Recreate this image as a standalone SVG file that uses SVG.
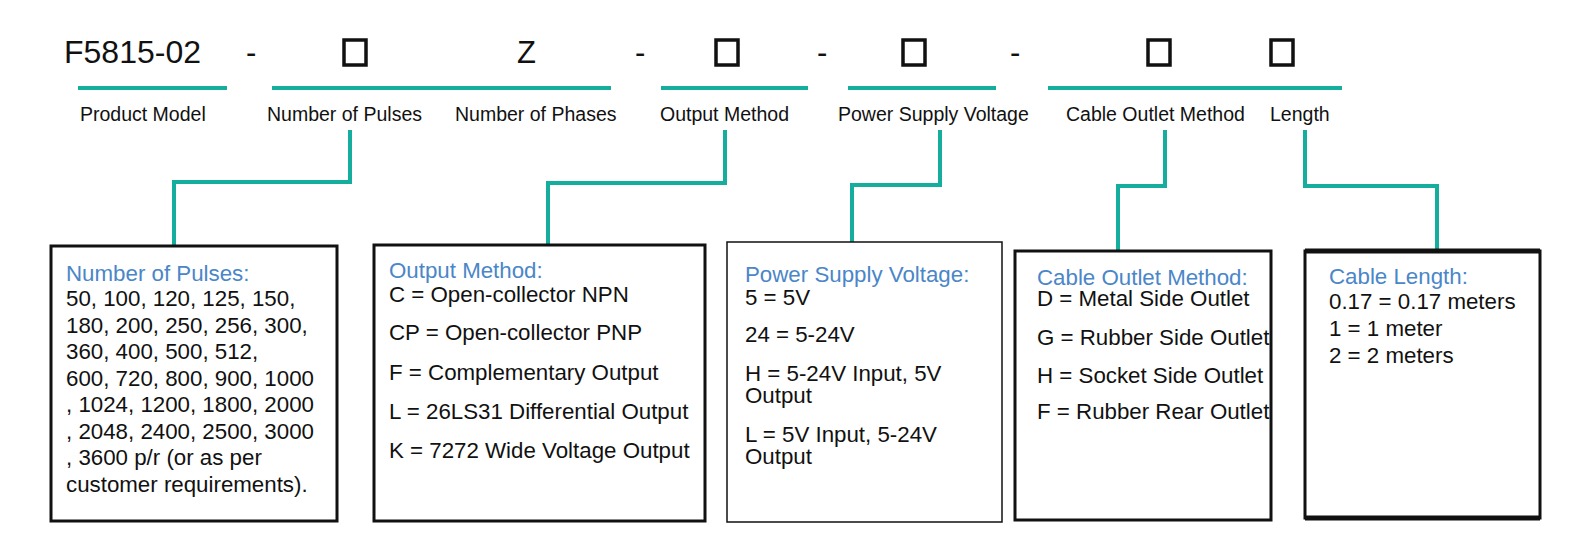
<svg xmlns="http://www.w3.org/2000/svg" width="1572" height="548" viewBox="0 0 1572 548">
<style>
text{font-family:"Liberation Sans",Arial,sans-serif;fill:#111}
.big{font-size:31px}.lab{font-size:19.5px}.t{font-size:22.3px}.h{font-size:22.3px;fill:#4a86c8}
.bar{stroke:#14ad9e;stroke-width:4;fill:none}
.box{fill:#fff;stroke:#111;stroke-width:3}
.sq{fill:none;stroke:#111;stroke-width:3.5}
</style>
<rect width="1572" height="548" fill="#fff"/>
<g id="code">
<text class="big" x="64" y="63" textLength="137" lengthAdjust="spacingAndGlyphs">F5815-02</text>
<text class="big" x="246" y="63">-</text>
<rect class="sq" x="344" y="40" width="22" height="25"/>
<text class="big" x="517" y="63">Z</text>
<text class="big" x="635" y="63">-</text>
<rect class="sq" x="716" y="40" width="22" height="25"/>
<text class="big" x="817" y="63">-</text>
<rect class="sq" x="903" y="40" width="22" height="25"/>
<text class="big" x="1010" y="63">-</text>
<rect class="sq" x="1148" y="40" width="22" height="25"/>
<rect class="sq" x="1271" y="40" width="22" height="25"/>
</g>
<g id="labels">
<text class="lab" x="80" y="121">Product Model</text>
<text class="lab" x="267" y="121">Number of Pulses</text>
<text class="lab" x="455" y="121">Number of Phases</text>
<text class="lab" x="660" y="121">Output Method</text>
<text class="lab" x="838" y="121">Power Supply Voltage</text>
<text class="lab" x="1066" y="121">Cable Outlet Method</text>
<text class="lab" x="1270" y="121">Length</text>
</g>
<g id="connectors">
<path class="bar" d="M78 88H227M272 88H611M661 88H808M848 88H996M1048 88H1342"/>
<path class="bar" d="M350 130V182H174V245M725 130V183H548V244M940 130V185H852V242M1165 130V186H1118V250M1305 130V186H1437V249"/>
</g>
<g id="pulses">
<rect class="box" x="51" y="246" width="286" height="275"/>
<text class="h" x="66" y="281">Number of Pulses:</text>
<text class="t" x="66" y="306">50, 100, 120, 125, 150,</text>
<text class="t" x="66" y="333">180, 200, 250, 256, 300,</text>
<text class="t" x="66" y="359">360, 400, 500, 512,</text>
<text class="t" x="66" y="386">600, 720, 800, 900, 1000</text>
<text class="t" x="66" y="412">, 1024, 1200, 1800, 2000</text>
<text class="t" x="66" y="439">, 2048, 2400, 2500, 3000</text>
<text class="t" x="66" y="465">, 3600 p/r (or as per</text>
<text class="t" x="66" y="492">customer requirements).</text>
</g>
<g id="output">
<rect class="box" x="374" y="245" width="331" height="276"/>
<text class="h" x="389" y="278">Output Method:</text>
<text class="t" x="389" y="302">C = Open-collector NPN</text>
<text class="t" x="389" y="340">CP = Open-collector PNP</text>
<text class="t" x="389" y="380">F = Complementary Output</text>
<text class="t" x="389" y="419">L = 26LS31 Differential Output</text>
<text class="t" x="389" y="458">K = 7272 Wide Voltage Output</text>
</g>
<g id="voltage">
<rect class="box" x="727" y="242" width="275" height="280" style="stroke-width:1.5"/>
<text class="h" x="745" y="282">Power Supply Voltage:</text>
<text class="t" x="745" y="305">5 = 5V</text>
<text class="t" x="745" y="342">24 = 5-24V</text>
<text class="t" x="745" y="381">H = 5-24V Input, 5V</text>
<text class="t" x="745" y="403">Output</text>
<text class="t" x="745" y="442">L = 5V Input, 5-24V</text>
<text class="t" x="745" y="464">Output</text>
</g>
<g id="outlet">
<rect class="box" x="1015" y="251" width="256" height="269"/>
<text class="h" x="1037" y="285">Cable Outlet Method:</text>
<text class="t" x="1037" y="306">D = Metal Side Outlet</text>
<text class="t" x="1037" y="345">G = Rubber Side Outlet</text>
<text class="t" x="1037" y="383">H = Socket Side Outlet</text>
<text class="t" x="1037" y="419">F = Rubber Rear Outlet</text>
</g>
<g id="length">
<rect class="box" x="1305" y="251" width="235" height="267"/>
<path d="M1305 251H1540M1305 518H1540" stroke="#111" stroke-width="5"/>
<text class="h" x="1329" y="284">Cable Length:</text>
<text class="t" x="1329" y="309">0.17 = 0.17 meters</text>
<text class="t" x="1329" y="336">1 = 1 meter</text>
<text class="t" x="1329" y="363">2 = 2 meters</text>
</g>
</svg>
